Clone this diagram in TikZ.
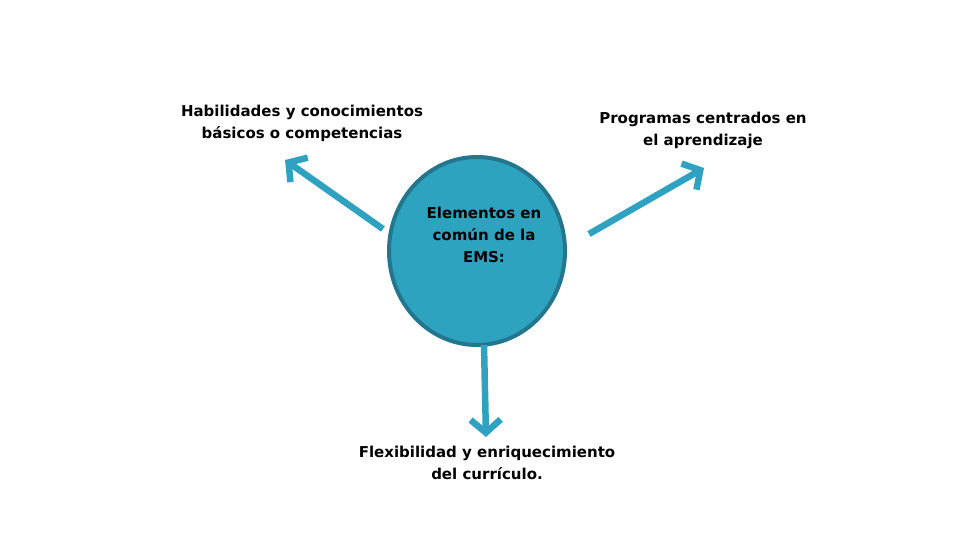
\documentclass[tikz,border=0pt]{standalone}
\usepackage{fontspec}
\setmainfont{DejaVu Sans}
\usetikzlibrary{arrows.meta,shapes.geometric}
\definecolor{cfill}{HTML}{2EA3C0}
\definecolor{cborder}{HTML}{23768D}
\definecolor{carrow}{HTML}{2FA2C1}
\tikzset{
  lbl/.style={align=center,font=\fontsize{15}{22}\selectfont\bfseries,text=black,inner sep=0pt},
  conn/.style={draw=carrow,line width=6.5pt,-{Straight Barb[length=13pt,width=30pt,line width=6.5pt]}},
}
\begin{document}
\begin{tikzpicture}[x=1pt,y=-1pt]
\useasboundingbox (0,0) rectangle (960,540);
\node[ellipse,draw=cborder,line width=4pt,fill=cfill,minimum width=176pt,minimum height=188pt,inner sep=0pt] (c) at (477,251) {};
\node[lbl,anchor=center] (ct) at (484,235) {Elementos en\\común de la\\EMS:};
\node[lbl] (tl) at (302,123) {Habilidades y conocimientos\\básicos o competencias};
\node[lbl] (tr) at (703,130) {Programas centrados en\\el aprendizaje};
\node[lbl] (b) at (487,463) {Flexibilidad y enriquecimiento\\del currículo.};
\coordinate (l0) at (383,229);
\coordinate (l1) at (285,160);
\coordinate (r0) at (589,234);
\coordinate (r1) at (704,168);
\coordinate (d0) at (484,345);
\coordinate (d1) at (486,437);
\draw[conn] (l0) -- (l1);
\draw[conn] (r0) -- (r1);
\draw[conn] (d0) -- (d1);
\end{tikzpicture}
\end{document}
